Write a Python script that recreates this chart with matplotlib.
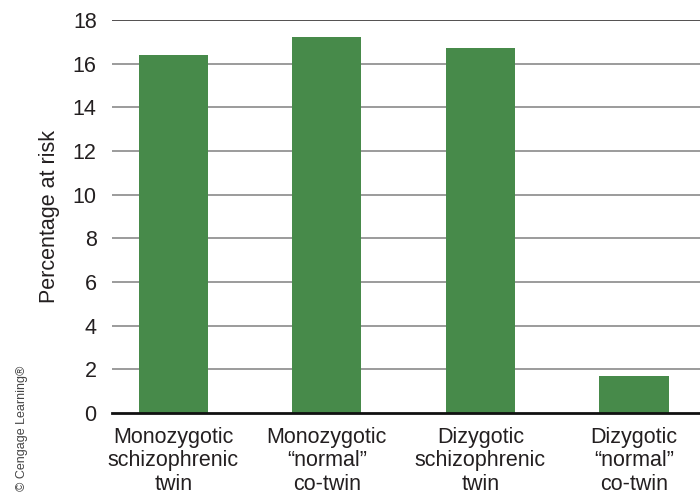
import numpy as np
import matplotlib
matplotlib.use("Agg")
from matplotlib import pyplot as plt

plt.rcParams["font.family"] = ["Liberation Sans", "DejaVu Sans"]

categories = [
    "Monozygotic\nschizophrenic\ntwin",
    "Monozygotic\n\u201cnormal\u201d\nco-twin",
    "Dizygotic\nschizophrenic\ntwin",
    "Dizygotic\n\u201cnormal\u201d\nco-twin",
]
risk = [16.4, 17.2, 16.7, 1.7]
yticks = [0, 2, 4, 6, 8, 10, 12, 14, 16, 18]

text_color = "#231f20"
bar_color = "#478a4a"

fig = plt.figure(figsize=(7.0, 4.97), dpi=100)
ax = fig.add_axes([112 / 700, 1 - 413 / 497, 588 / 700, 393 / 497])

x = np.arange(len(categories))
ax.bar(x, risk, width=0.45, color=bar_color, zorder=3)

ax.set_ylim(0, 18)
ax.set_xlim(-0.4, 3.43)
ax.set_yticks(yticks)
for t in yticks[1:-1]:
    ax.axhline(t, color="#8a8a8a", lw=1.2, zorder=1)
ax.axhline(18, color="#231f20", lw=1.1, zorder=1)

for s in ["top", "right", "left"]:
    ax.spines[s].set_visible(False)
ax.spines["bottom"].set_color("#111111")
ax.spines["bottom"].set_linewidth(2)
ax.spines["bottom"].set_zorder(4)

ax.set_xticks(x)
ax.set_xticklabels(categories, linespacing=1.15)
ax.tick_params(axis="both", length=0, labelsize=15.5, colors=text_color)
ax.tick_params(axis="x", pad=10)
ax.tick_params(axis="y", pad=11)

ax.set_ylabel("Percentage at risk", fontsize=15.5, color=text_color, labelpad=9)

fig.text(0.032, 0.012, "\u00a9 Cengage Learning\u00ae", rotation=90, fontsize=9,
         color="#444444", ha="center", va="bottom")

plt.savefig("out.png", dpi=100)
